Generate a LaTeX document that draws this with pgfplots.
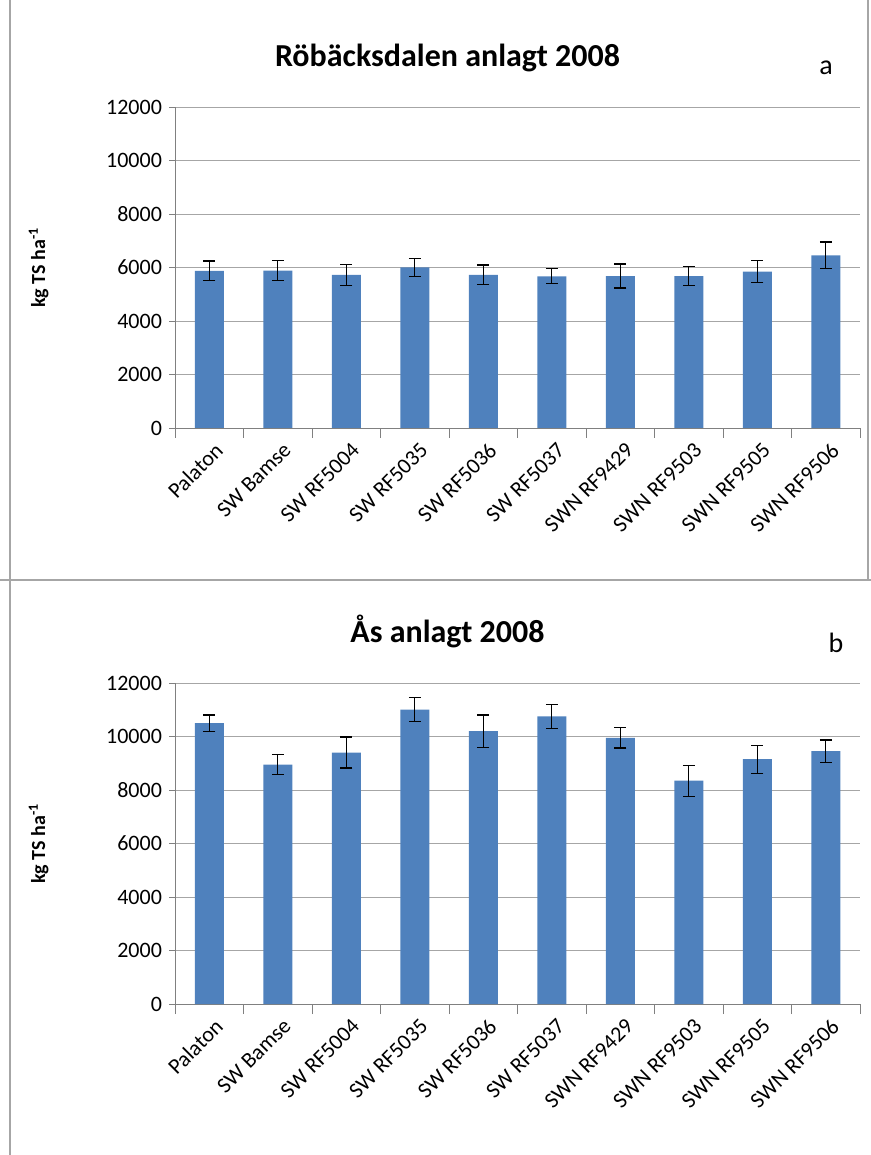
\documentclass[border=0pt]{standalone}
\usepackage{pgfplots}
\pgfplotsset{compat=1.18}
\usepackage{fontspec}
\setmainfont{Carlito}
\definecolor{barblue}{RGB}{79,129,189}
\begin{document}
\begin{tikzpicture}
\path[use as bounding box] (0pt,0pt) rectangle (435.5pt,577.5pt);
\draw[gray!70,line width=0.6pt] (5pt,0pt) -- (5pt,577.5pt);
\draw[gray!70,line width=0.6pt] (434pt,287.5pt) -- (434pt,577.5pt);
\draw[gray!70,line width=0.6pt] (0pt,287.5pt) -- (435.5pt,287.5pt);
\pgfplotsset{myax/.style={
  scale only axis, width=342.5pt, height=160.5pt,
  ymin=0, ymax=12000, ytick={0,2000,...,12000},
  xmin=-0.5, xmax=9.5, xtick={0,...,9},
  xticklabels={Palaton,SW Bamse,SW RF5004,SW RF5035,SW RF5036,SW RF5037,SWN RF9429,SWN RF9503,SWN RF9505,SWN RF9506},
  x tick label style={rotate=45,anchor=north east,font=\fontsize{11}{13}\selectfont,inner sep=1pt,yshift=-3pt},
  y tick label style={font=\fontsize{11}{13}\selectfont},
  /pgf/number format/assume math mode=true,
  scaled y ticks=false, yticklabel={\pgfmathprintnumber[1000 sep={}]{\tick}},
  axis x line*=bottom, axis y line*=left,
  axis line style={gray}, ymajorgrids, grid style={gray!70},
  major x tick style={draw=none},
  minor xtick={-0.5,0.5,...,9.5}, minor x tick style={gray},
  minor tick length=5pt, major tick length=3pt, y tick style={gray},
  tick align=outside,
  ylabel={\textbf{kg TS ha\textsuperscript{-1}}}, ylabel style={font=\fontsize{10}{11}\selectfont},
  ylabel shift=22pt,
  bar width=14.5pt,
  error bars/error bar style={black,line width=0.6pt},
  error bars/error mark options={rotate=90,mark size=3pt,black,line width=0.6pt},
  title style={font=\bfseries\fontsize{16}{18}\selectfont, yshift=8pt, xshift=-35pt},
}}
\begin{axis}[myax, at={(87.5pt,363.5pt)}, anchor=south west, title={Röbäcksdalen anlagt 2008}]
\addplot[ybar, fill=barblue, draw=none, error bars/.cd, y dir=both, y explicit] coordinates {
(0,5870) +- (0,370) (1,5880) +- (0,370) (2,5720) +- (0,380) (3,6000) +- (0,330) (4,5720) +- (0,370)
(5,5670) +- (0,280) (6,5680) +- (0,450) (7,5680) +- (0,350) (8,5850) +- (0,400) (9,6450) +- (0,500)};
\end{axis}
\begin{axis}[myax, at={(87.5pt,75.5pt)}, anchor=south west, title={Ås anlagt 2008}]
\addplot[ybar, fill=barblue, draw=none, error bars/.cd, y dir=both, y explicit] coordinates {
(0,10500) +- (0,300) (1,8950) +- (0,380) (2,9400) +- (0,580) (3,11000) +- (0,450) (4,10200) +- (0,600)
(5,10750) +- (0,450) (6,9950) +- (0,380) (7,8350) +- (0,580) (8,9150) +- (0,520) (9,9450) +- (0,420)};
\end{axis}
\node[font=\fontsize{14}{16}\selectfont] at (413pt,543.5pt) {a};
\node[font=\fontsize{14}{16}\selectfont] at (418pt,256pt) {b};
\end{tikzpicture}
\end{document}
